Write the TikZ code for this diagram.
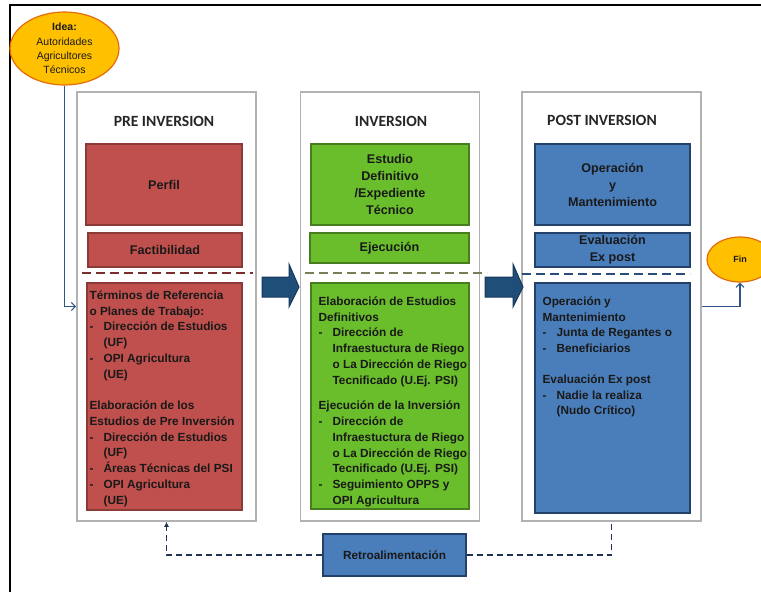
\documentclass[tikz,border=0pt]{standalone}
\usepackage{fontspec}
\setmainfont{Liberation Sans}
\newfontfamily\titfont{Carlito}
\usetikzlibrary{shapes.geometric,arrows.meta}
\definecolor{rojo}{HTML}{C0504D}
\definecolor{rojoB}{HTML}{8C3A37}
\definecolor{verde}{HTML}{6ABD2B}
\definecolor{verdeB}{HTML}{477D1E}
\definecolor{azul}{HTML}{4A7EBB}
\definecolor{azulB}{HTML}{24416B}
\definecolor{flechaC}{HTML}{1F4E79}
\definecolor{flechaB}{HTML}{17375E}
\definecolor{naranja}{HTML}{FFC000}
\definecolor{naranjaB}{HTML}{E46C0A}
\definecolor{lineaC}{HTML}{2E5584}
\definecolor{retroC}{HTML}{1F3050}
\definecolor{sepR}{HTML}{7B2E2E}
\definecolor{sepV}{HTML}{7A7D55}
\definecolor{sepA}{HTML}{2B4C7E}
\newcommand{\guion}{\makebox[14pt][l]{-}}
\newcommand{\sang}{\hspace*{14pt}}
\tikzset{
  columna/.style={draw=gray!60,line width=1.6pt,fill=white,minimum width=179pt,minimum height=429pt,inner sep=0pt},
  titulo/.style={font=\titfont\bfseries\fontsize{15.6}{18}\selectfont,text=black!85},
  caja/.style={line width=1.2pt,inner sep=0pt,align=center,text=black!90,font=\bfseries\fontsize{12.6}{17}\selectfont},
  cajaR/.style={caja,fill=rojo,draw=rojoB},
  cajaV/.style={caja,fill=verde,draw=verdeB},
  cajaA/.style={caja,fill=azul,draw=azulB},
  texto/.style={anchor=north west,inner sep=0pt,align=left,text=black!90,font=\bfseries\fontsize{11.8}{15.75}\selectfont},
  separa/.style={line width=2.2pt,dash pattern=on 9pt off 5pt},
  flecha/.style={fill=flechaC,draw=flechaB,line width=1pt},
  conector/.style={draw=lineaC,line width=1.1pt},
  retroL/.style={draw=retroC,line width=1.6pt,dash pattern=on 6pt off 4pt},
}
\begin{document}
\begin{tikzpicture}[x=1pt,y=-1pt]
  \useasboundingbox (0,0) rectangle (761,592);
  %MARCO
  \draw[line width=2pt] (10,592) -- (10,5) -- (761,5);
  %COLUMNAS
  \node[columna] (pre) at (166.5,306.5) {};
  \node[columna] (inv) at (390,306.5) {};
  \node[columna] (post) at (611.5,306.5) {};
  \node[titulo] (preT) at (164,121) {PRE INVERSION};
  \node[titulo] (invT) at (391,121) {INVERSION};
  \node[titulo] (postT) at (602,120) {POST INVERSION};
  %PRE INVERSION
  \node[cajaR,minimum width=156pt,minimum height=81pt] (perfil) at (164,184.5) {Perfil};
  \node[cajaR,minimum width=154pt,minimum height=34pt] (fact) at (165,250) {Factibilidad};
  \draw[separa,draw=sepR] (82,273) -- (253,273);
  \node[cajaR,minimum width=155pt,minimum height=227pt] (pre3) at (164.5,396.5) {};
  \node[texto] (pre3txt) at ([shift={(3,8)}]pre3.north west)
    {T\'erminos de Referencia\\
     o Planes de Trabajo:\\
     \guion Direcci\'on de Estudios\\
     \sang(UF)\\
     \guion OPI Agricultura\\
     \sang(UE)\\[15.75pt]
     Elaboraci\'on de los\\
     Estudios de Pre Inversi\'on\\
     \guion Direcci\'on de Estudios\\
     \sang(UF)\\
     \guion \'Areas T\'ecnicas del PSI\\
     \guion OPI Agricultura\\
     \sang(UE)};
  %INVERSION
  \node[cajaV,minimum width=158pt,minimum height=81pt] (estudio) at (390,184.5)
    {Estudio\\Definitivo\\/Expediente\\T\'ecnico};
  \node[cajaV,minimum width=159pt,minimum height=30pt] (ejec) at (389.5,248) {Ejecuci\'on};
  \draw[separa,draw=sepV] (305,273) -- (487,273);
  \node[cajaV,minimum width=158pt,minimum height=226pt] (inv3) at (390,396) {};
  \node[texto] (inv3txt) at ([shift={(8,14)}]inv3.north west)
    {Elaboraci\'on de Estudios\\
     Definitivos\\
     \guion Direcci\'on de\\
     \sang Infraestuctura de Riego\\
     \sang o La Direcci\'on de Riego\\
     \sang Tecnificado (U.Ej. PSI)\\[10pt]
     Ejecuci\'on de la Inversi\'on\\
     \guion Direcci\'on de\\
     \sang Infraestuctura de Riego\\
     \sang o La Direcci\'on de Riego\\
     \sang Tecnificado (U.Ej. PSI)\\
     \guion Seguimiento OPPS y\\
     \sang OPI Agricultura};
  %POST INVERSION
  \node[cajaA,minimum width=155pt,minimum height=81pt] (opman) at (612.5,184.5)
    {Operaci\'on\\y\\Mantenimiento};
  \node[cajaA,minimum width=155pt,minimum height=34pt] (evalex) at (612.5,250)
    {Evaluaci\'on\\Ex post};
  \draw[separa,draw=sepA] (522,274) -- (690,274);
  \node[cajaA,minimum width=155pt,minimum height=230pt] (post3) at (612.5,398) {};
  \node[texto] (post3txt) at ([shift={(8,14)}]post3.north west)
    {Operaci\'on y\\
     Mantenimiento\\
     \guion Junta de Regantes o\\
     \guion Beneficiarios\\[15pt]
     Evaluaci\'on Ex post\\
     \guion Nadie la realiza\\
     \sang(Nudo Cr\'itico)};
  %FLECHAS
  \foreach \xa/\xb in {262/289,485/513}
    \draw[flecha] (\xa,277) -- (\xb,277) -- (\xb,264) -- (\xb+10,287)
      -- (\xb,307) -- (\xb,297) -- (\xa,297) -- cycle;
  %IDEA, FIN
  \node[ellipse,fill=naranja,draw=naranjaB,line width=1.2pt,minimum width=109pt,minimum height=73pt,
    inner sep=0pt,align=center,text=black!90,font=\fontsize{10.5}{14.3}\selectfont] (idea) at (64.5,48.5)
    {\textbf{Idea:}\\Autoridades\\Agricultores\\T\'ecnicos};
  \node[ellipse,fill=naranja,draw=naranjaB,line width=1.2pt,minimum width=66pt,minimum height=45pt,
    inner sep=0pt,text=black!90,font=\bfseries\fontsize{9}{11}\selectfont] (fin) at (740,259.5) {Fin};
  \draw[conector,-{Straight Barb[length=4pt,width=8pt]}] (idea.south) |- (pre.west);
  \draw[conector,-{Straight Barb[length=4pt,width=8pt]}] (post.east) -| (fin.south);
  %RETROALIMENTACION
  \node[cajaA,minimum width=143pt,minimum height=42pt,font=\bfseries\fontsize{11.8}{14}\selectfont] (retro) at (394.5,555) {Retroalimentaci\'on};
  \draw[retroL,-{Latex[length=5pt,width=5pt]}] (retro.west) -| (pre.south);
  \draw[retroL] (retro.east) -| (post.south);
\end{tikzpicture}
\end{document}
